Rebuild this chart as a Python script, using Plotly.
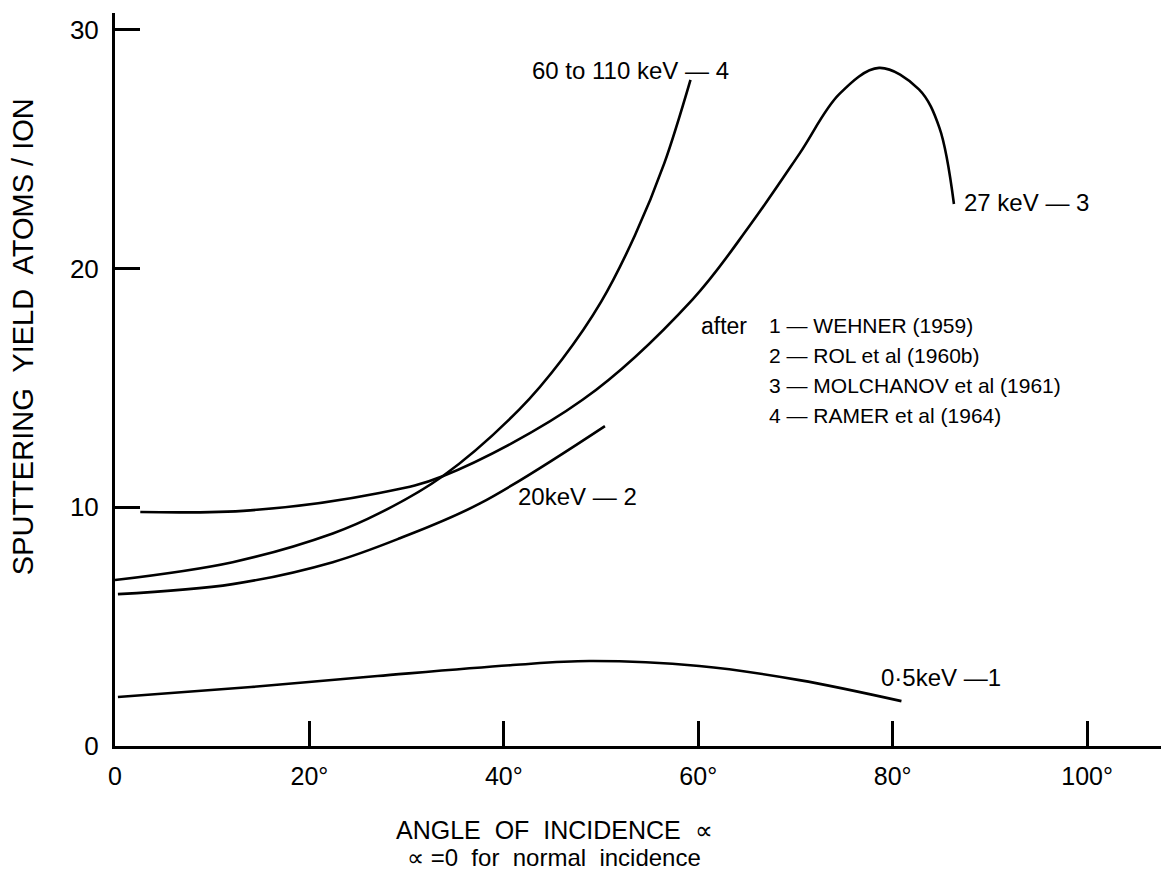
import plotly.graph_objects as go

# ---- data (angle in degrees, yield atoms/ion) ----
wehner_x = [0.3, 14, 27, 40.9, 48.8, 60.1, 70.4, 80.9]
wehner_y = [2.05, 2.47, 2.93, 3.39, 3.56, 3.35, 2.76, 1.88]

rol_x = [0.3, 12.1, 22.4, 29.3, 37.5, 50.4]
rol_y = [6.36, 6.78, 7.7, 8.7, 10.15, 13.4]

molch_x = [2.6, 13.9, 27.2, 33.7, 48.1, 59.4, 65.3, 70.4, 74.5, 78.6, 82.7, 84.8, 86.3]
molch_y = [9.8, 9.87, 10.6, 11.3, 14.5, 18.7, 21.8, 24.8, 27.3, 28.4, 27.5, 25.9, 22.7]

ramer_x = [0, 12.1, 22.4, 27.2, 33.7, 41.6, 46.0, 50.0, 53.5, 56.5, 59.2]
ramer_y = [6.95, 7.7, 8.9, 9.75, 11.3, 14.1, 16.2, 18.6, 21.4, 24.4, 27.9]

x_tickvals = [0, 20, 40, 60, 80, 100]
x_ticktext = ["0", "20°", "40°", "60°", "80°", "100°"]
y_tickvals = [0, 10, 20, 30]
y_ticktext = ["0", "10", "20", "30"]

curve_labels = ["60 to 110 keV — 4", "27 keV — 3", "20keV — 2", "0·5keV —1"]
curve_label_x = [42.65, 87.15, 41.3, 78.6]
curve_label_y = [28.3, 22.75, 10.43, 2.89]

legend_lines = ["1 — WEHNER (1959)", "2 — ROL et al (1960b)",
                "3 — MOLCHANOV et al (1961)", "4 — RAMER et al (1964)"]
legend_y = [17.6, 16.35, 15.1, 13.85]

FONT = "Liberation Sans, Arial, Helvetica, sans-serif"

fig = go.Figure()
for xs, ys, name in [(wehner_x, wehner_y, "0.5 keV"), (rol_x, rol_y, "20 keV"),
                     (molch_x, molch_y, "27 keV"), (ramer_x, ramer_y, "60-110 keV")]:
    fig.add_trace(go.Scatter(x=xs, y=ys, mode="lines", name=name,
                             line=dict(color="black", width=2.6, shape="spline", smoothing=1.0),
                             showlegend=False, hoverinfo="skip"))

annotations = []
for t, xv, yv in zip(curve_labels, curve_label_x, curve_label_y):
    annotations.append(dict(x=xv, y=yv, xref="x", yref="y", text=t, showarrow=False,
                            xanchor="left", yanchor="middle",
                            font=dict(family=FONT, size=24, color="black")))
annotations.append(dict(x=60.1, y=legend_y[0], xref="x", yref="y", text="after", showarrow=False,
                        xanchor="left", yanchor="middle",
                        font=dict(family=FONT, size=23, color="black")))
for t, yv in zip(legend_lines, legend_y):
    annotations.append(dict(x=67.1, y=yv, xref="x", yref="y", text=t, showarrow=False,
                            xanchor="left", yanchor="middle",
                            font=dict(family=FONT, size=21, color="black")))
# axis titles
annotations.append(dict(x=0.4197, y=-0.114, xref="paper", yref="paper",
                        text="ANGLE  OF  INCIDENCE  ∝", showarrow=False,
                        xanchor="center", yanchor="middle",
                        font=dict(family=FONT, size=25, color="black")))
annotations.append(dict(x=0.4197, y=-0.152, xref="paper", yref="paper",
                        text="∝ =0  for  normal  incidence", showarrow=False,
                        xanchor="center", yanchor="middle",
                        font=dict(family=FONT, size=24, color="black")))
annotations.append(dict(x=-0.088, y=0.559, xref="paper", yref="paper",
                        text="SPUTTERING  YIELD  ATOMS / ION", showarrow=False,
                        textangle=-90, xanchor="center", yanchor="middle",
                        font=dict(family=FONT, size=29, color="black")))

fig.update_layout(
    width=1168, height=879,
    margin=dict(l=115, r=7, t=13, b=133),
    paper_bgcolor="white", plot_bgcolor="white",
    annotations=annotations,
    xaxis=dict(range=[0, 107.6], showgrid=False, zeroline=False,
               showline=True, linecolor="black", linewidth=3,
               ticks="inside", ticklen=25, tickwidth=3, tickcolor="black",
               tickvals=x_tickvals, ticktext=x_ticktext, ticklabelstandoff=6,
               tickfont=dict(family=FONT, size=25, color="black")),
    yaxis=dict(range=[0, 30.7], showgrid=False, zeroline=False,
               showline=True, linecolor="black", linewidth=3,
               ticks="inside", ticklen=25, tickwidth=3, tickcolor="black",
               tickvals=y_tickvals, ticktext=y_ticktext, ticklabelstandoff=8,
               tickfont=dict(family=FONT, size=26, color="black")),
)

fig.write_html("out.html")
